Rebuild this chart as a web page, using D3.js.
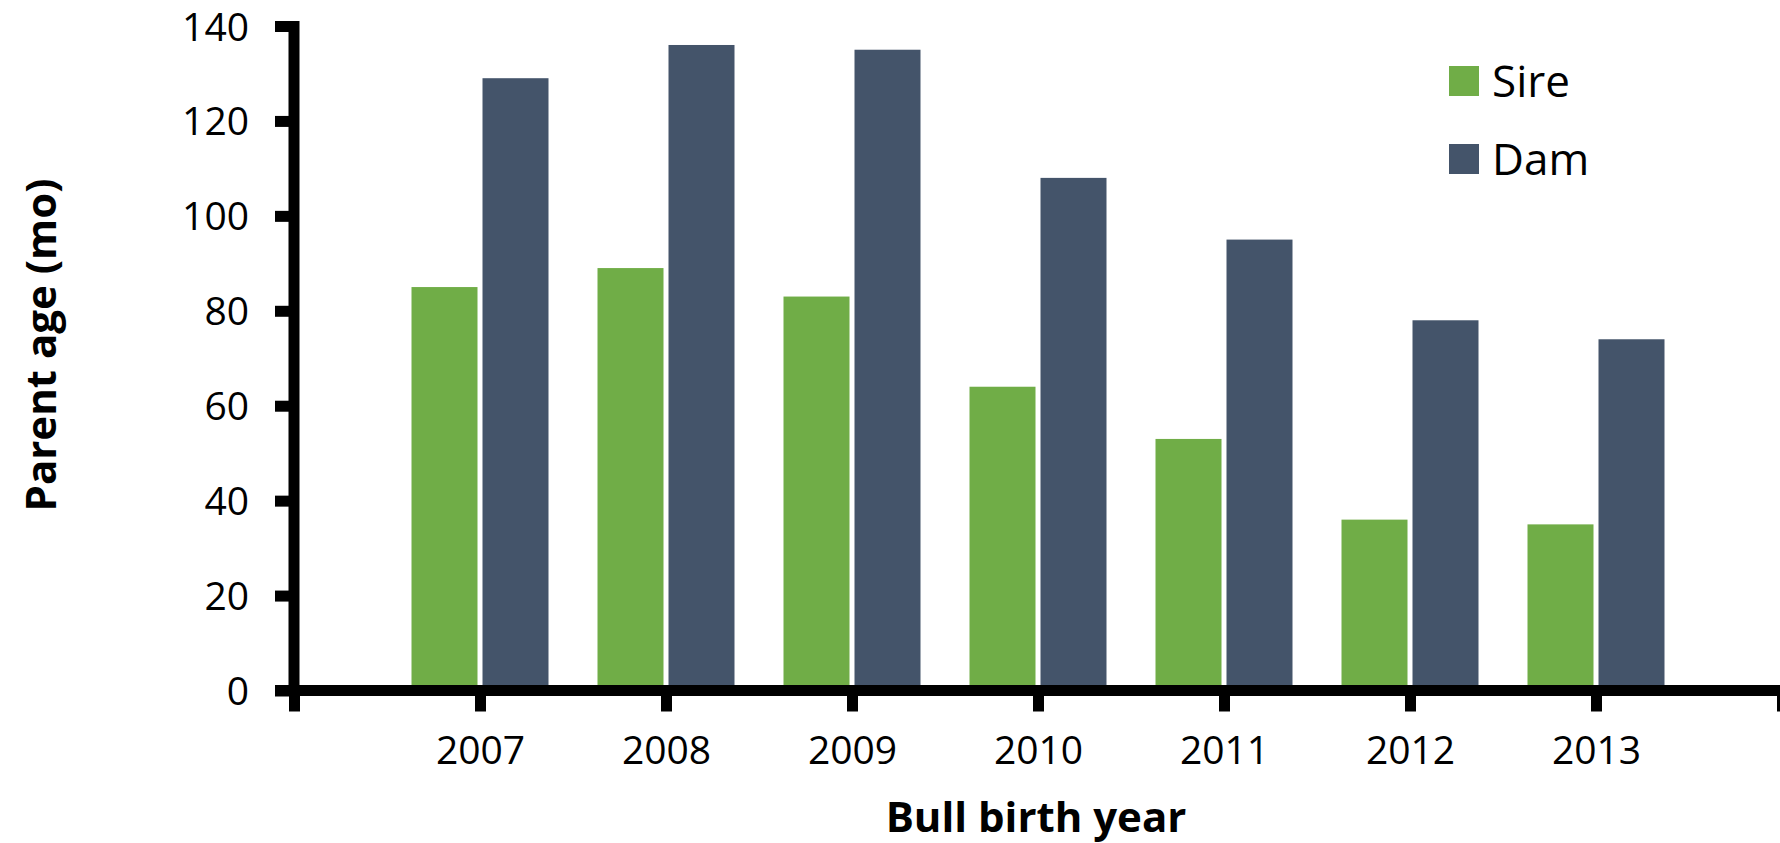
<!DOCTYPE html>
<head>
    <meta charset="utf-8">
    <script src="https://cdn.jsdelivr.net/npm/d3@7"></script>
    <style>
        body { margin: 0; background: white; }
        text { font-family: "Open Sans", sans-serif; fill: black; }
        .axis path, .axis line { stroke: black; stroke-width: 11px; }
    </style>
</head>

<body>
<script>

    var years = [2007, 2008, 2009, 2010, 2011, 2012, 2013];
    var sire = [85, 89, 83, 64, 53, 36, 35];
    var dam = [129, 136, 135, 108, 95, 78, 74];
    var yTicks = [0, 20, 40, 60, 80, 100, 120, 140];
    var seriesNames = ["Sire", "Dam"];
    var colors = ["#70ad47", "#44546a"];

    var svg = d3.select("body").append("svg")
        .attr("width", 1780)
        .attr("height", 843);

    // linear year scale, with a spare year on each side
    var x = d3.scaleLinear().domain([2006, 2014]).range([294, 1782]);
    var y = d3.scaleLinear().domain([0, 140]).range([690.5, 26]);

    var barW = 66, gap = 5;

    var bars = svg.append("g");
    bars.selectAll("rect.sire").data(sire).enter().append("rect")
        .attr("class", "sire")
        .attr("x", function(d, i) { return x(years[i]) - gap / 2 - barW; })
        .attr("y", function(d) { return y(d); })
        .attr("width", barW)
        .attr("height", function(d) { return y(0) - y(d); })
        .style("fill", colors[0]);

    bars.selectAll("rect.dam").data(dam).enter().append("rect")
        .attr("class", "dam")
        .attr("x", function(d, i) { return x(years[i]) + gap / 2; })
        .attr("y", function(d) { return y(d); })
        .attr("width", barW)
        .attr("height", function(d) { return y(0) - y(d); })
        .style("fill", colors[1]);

    var yAxis = svg.append("g").attr("class", "axis")
        .attr("transform", "translate(294,0)")
        .call(d3.axisLeft(y).tickValues(yTicks).tickSize(19).tickSizeOuter(0).tickPadding(26));
    yAxis.selectAll("text").style("font-size", "39px").attr("dy", "0.36em");
    yAxis.select(".domain").attr("d", "M0," + (y(140) - 5) + "V" + (y(0) + 5));

    var xAxis = svg.append("g").attr("class", "axis")
        .attr("transform", "translate(0,690.5)")
        .call(d3.axisBottom(x).tickValues(d3.range(2006, 2015)).tickSize(21).tickSizeOuter(0)
            .tickFormat(function(d) { return years.indexOf(d) >= 0 ? d : ""; }));
    xAxis.selectAll("text").style("font-size", "39px").attr("y", 73.5).attr("dy", 0);
    xAxis.select(".domain").attr("d", "M275,0H1780");

    svg.append("text")
        .attr("transform", "translate(56,345) rotate(-90)")
        .style("text-anchor", "middle")
        .style("font-size", "42px")
        .style("font-weight", "bold")
        .text("Parent age (mo)");

    svg.append("text")
        .attr("x", 1036)
        .attr("y", 832)
        .style("text-anchor", "middle")
        .style("font-size", "42px")
        .style("font-weight", "bold")
        .text("Bull birth year");

    var legend = svg.append("g").selectAll("g").data(seriesNames).enter().append("g")
        .attr("transform", function(d, i) { return "translate(1449," + (66 + i * 78) + ")"; });
    legend.append("rect")
        .attr("width", 30).attr("height", 30)
        .style("fill", function(d, i) { return colors[i]; });
    legend.append("text")
        .attr("x", 43).attr("y", 31)
        .style("font-size", "44px")
        .text(function(d) { return d; });

</script>
</body>
